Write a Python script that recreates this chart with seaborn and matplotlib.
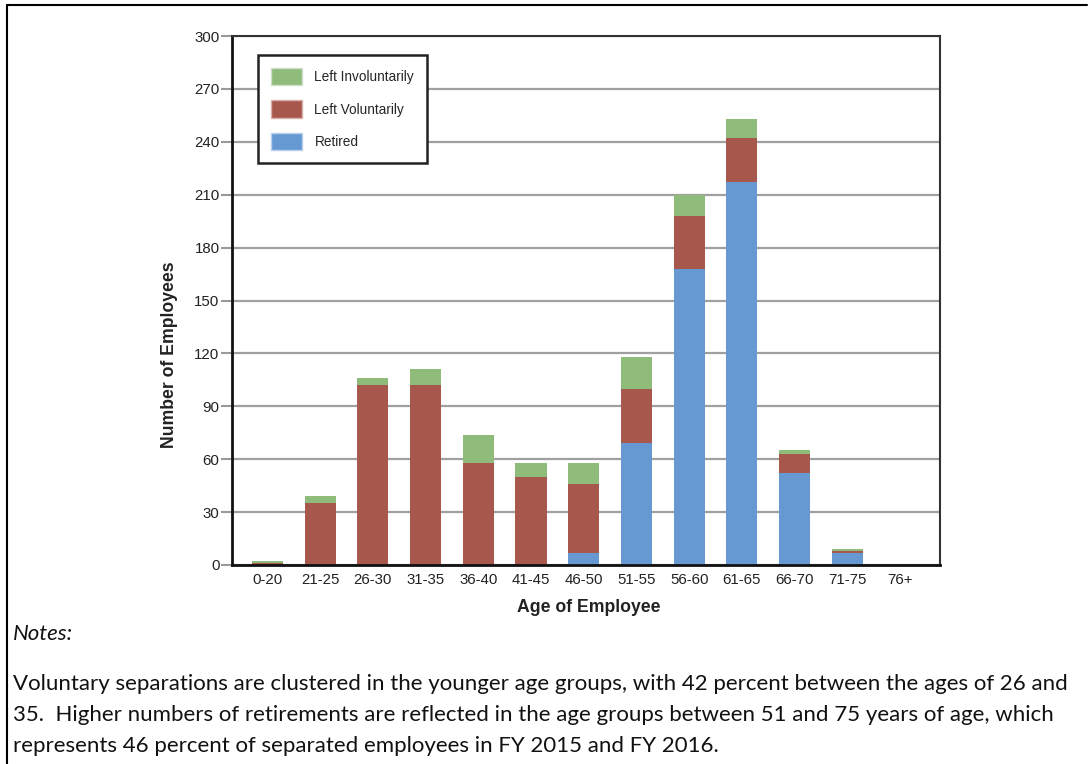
import seaborn as sns
import matplotlib.pyplot as plt
import pandas as pd
from matplotlib.patches import Patch
from matplotlib.lines import Line2D

age_groups = ['0-20', '21-25', '26-30', '31-35', '36-40', '41-45', '46-50',
              '51-55', '56-60', '61-65', '66-70', '71-75', '76+']
retired = [0, 0, 0, 0, 0, 0, 7, 69, 168, 217, 52, 7, 0]
left_voluntarily = [1, 35, 102, 102, 58, 50, 39, 31, 30, 25, 11, 1, 0]
left_involuntarily = [1, 4, 4, 9, 16, 8, 12, 18, 12, 11, 2, 1, 0]
y_ticks = [0, 30, 60, 90, 120, 150, 180, 210, 240, 270, 300]

c_inv = '#8fbb7b'
c_vol = '#a8574d'
c_ret = '#6699d2'

df = pd.DataFrame({'age': age_groups, 'ret': retired, 'vol': left_voluntarily, 'inv': left_involuntarily})
df['ret_vol'] = df['ret'] + df['vol']
df['total'] = df['ret_vol'] + df['inv']

sns.set_style('white')
plt.rcParams['font.family'] = ['Liberation Sans', 'DejaVu Sans']

fig = plt.figure(figsize=(10.91, 7.64), dpi=100)
ax = fig.add_axes([232 / 1091, 1 - 565 / 764, 708 / 1091, 529 / 764])

# stacked bars: draw cumulative totals back to front
sns.barplot(data=df, x='age', y='total', color=c_inv, width=0.59, saturation=1, ax=ax, linewidth=0)
sns.barplot(data=df, x='age', y='ret_vol', color=c_vol, width=0.59, saturation=1, ax=ax, linewidth=0)
sns.barplot(data=df, x='age', y='ret', color=c_ret, width=0.59, saturation=1, ax=ax, linewidth=0)

ax.set_xlim(-0.674, 12.76)
ax.set_ylim(0, 300)
ax.set_yticks(y_ticks)
ax.set_yticklabels([str(t) for t in y_ticks], fontsize=10.8, color='#222222')
ax.tick_params(axis='y', length=8, width=1.5, color='#999999', pad=1, left=True)
ax.tick_params(axis='x', length=0, labelsize=10.8, labelcolor='#222222', pad=6)
ax.grid(axis='y', color='#a0a0a0', linewidth=1.6)
ax.set_axisbelow(True)
for side in ['left', 'bottom']:
    ax.spines[side].set_color('#111111')
    ax.spines[side].set_linewidth(2)
for side in ['top', 'right']:
    ax.spines[side].set_color('#333333')
    ax.spines[side].set_linewidth(1.5)
ax.set_xlabel('')
ax.set_ylabel('')

fig.text(170 / 1091, 1 - 355 / 764, 'Number of Employees', rotation=90, ha='center', va='center',
         fontsize=12.7, fontweight='bold', color='#222222')
fig.text(589 / 1091, 1 - 607 / 764, 'Age of Employee', ha='center', va='center',
         fontsize=12.7, fontweight='bold', color='#222222')

handles = [Patch(facecolor=c_inv, edgecolor='#cfe0c8', label='Left Involuntarily'),
           Patch(facecolor=c_vol, edgecolor='#d8b0aa', label='Left Voluntarily'),
           Patch(facecolor=c_ret, edgecolor='#b8d0ec', label='Retired')]
leg = ax.legend(handles=handles, loc='upper left', bbox_to_anchor=(26 / 708, 1 - 19 / 529),
                fontsize=9.8, frameon=True, fancybox=False, framealpha=1, edgecolor='#222222',
                handlelength=2.3, handleheight=1.6, labelspacing=1.1, borderpad=0.95,
                handletextpad=0.9, borderaxespad=0)
leg.get_frame().set_linewidth(1.8)

# notes below the chart
note_font = ['Lato', 'DejaVu Sans']
fig.text(13 / 1091, 1 - 634 / 764, 'Notes:', style='italic', fontsize=16, family=note_font,
         ha='left', va='center', color='#111111')
note_lines = ['Voluntary separations are clustered in the younger age groups, with 42 percent between the ages of 26 and',
              '35.  Higher numbers of retirements are reflected in the age groups between 51 and 75 years of age, which',
              'represents 46 percent of separated employees in FY 2015 and FY 2016.']
for i, line in enumerate(note_lines):
    fig.text(13 / 1091, 1 - (684 + 31 * i) / 764, line, fontsize=16, family=note_font,
             ha='left', va='center', color='#111111')

# frame lines of the surrounding box
fig.add_artist(Line2D([7 / 1091, 7 / 1091], [0, 1 - 5 / 764], transform=fig.transFigure, color='black', linewidth=1.5))
fig.add_artist(Line2D([7 / 1091, 1087 / 1091], [1 - 5 / 764, 1 - 5 / 764], transform=fig.transFigure, color='black', linewidth=1.5))

fig.savefig('out.png', dpi=100)
